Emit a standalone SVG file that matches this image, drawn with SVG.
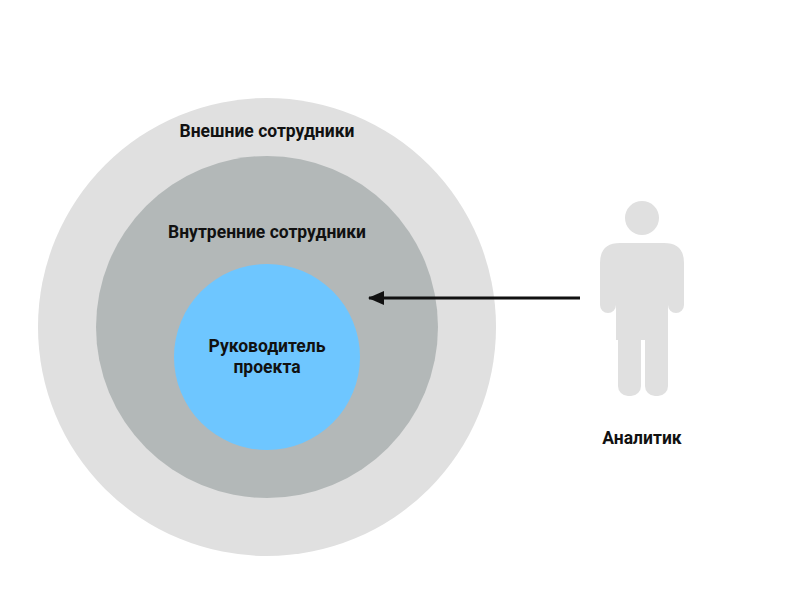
<svg xmlns="http://www.w3.org/2000/svg" width="800" height="600" viewBox="0 0 800 600">
<defs>
<style>
text{font-family:Roboto,"Liberation Sans",sans-serif;font-weight:bold;font-size:17.5px;fill:#111;text-anchor:middle}
.p{fill:#e0e0e0}
</style>
<marker id="ah" markerWidth="16" markerHeight="14" refX="15" refY="7" orient="auto" markerUnits="userSpaceOnUse"><path d="M0 0L16 7L0 14Z" fill="#111"/></marker>
</defs>
<rect width="800" height="600" fill="#fff"/>
<g id="outer"><circle cx="267" cy="327" r="229" fill="#e0e0e0"/><text x="267" y="137">Внешние сотрудники</text></g>
<g id="inner"><circle cx="267" cy="327" r="171" fill="#b3b8b8"/><text x="267" y="238">Внутренние сотрудники</text></g>
<g id="pm"><circle cx="267" cy="357" r="93" fill="#6ec6ff"/><text x="267" y="352">Руководитель</text><text x="267" y="373">проекта</text></g>
<g id="analyst">
<circle class="p" cx="642" cy="218" r="17"/>
<path class="p" d="M600 305V263Q600 243 620 243H664Q684 243 684 263V305A8 8 0 0 1 668 305V268H616V305A8 8 0 0 1 600 305Z"/>
<rect class="p" x="616" y="260" width="52" height="80"/>
<rect class="p" x="618" y="320" width="23" height="76" rx="10"/>
<rect class="p" x="645" y="320" width="23" height="76" rx="10"/>
<text x="642" y="444">Аналитик</text>
</g>
<g id="connectors"><line x1="580" y1="298" x2="369" y2="298" stroke="#111" stroke-width="3" marker-end="url(#ah)"/></g>
</svg>
